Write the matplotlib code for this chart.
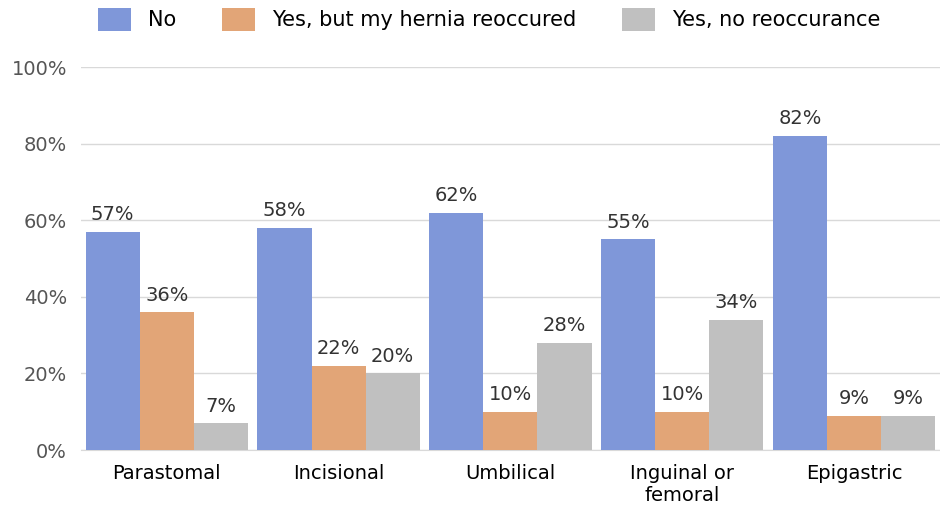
import matplotlib
matplotlib.use("Agg")
import matplotlib.pyplot as plt
import numpy as np

categories = ["Parastomal", "Incisional", "Umbilical", "Inguinal or\nfemoral", "Epigastric"]
series_names = ["No", "Yes, but my hernia reoccured", "Yes, no reoccurance"]
no_vals = [57, 58, 62, 55, 82]
reocc_vals = [36, 22, 10, 10, 9]
noreocc_vals = [7, 20, 28, 34, 9]
colors = ["#7F97D9", "#E2A577", "#C0C0C0"]

fig = plt.figure(figsize=(9.4, 5.32), dpi=100)
ax = fig.add_axes([0.086, 0.154, 0.914, 0.72])
x = np.arange(len(categories))
w = 0.315
for i, (vals, name, c) in enumerate(zip([no_vals, reocc_vals, noreocc_vals], series_names, colors)):
    xs = x + (i - 1) * w
    ax.bar(xs, vals, width=w, color=c, label=name, zorder=3)
    for xi, v in zip(xs, vals):
        ax.text(xi, v + 2, f"{v}%", ha="center", va="bottom", fontsize=14, color="#333333")

ax.set_xlim(-0.5, 4.5)
ax.set_ylim(0, 100)
ax.set_yticks(range(0, 101, 20))
ax.set_yticklabels([f"{t}%" for t in range(0, 101, 20)], fontsize=14, color="#555555")
ax.set_xticks(x)
ax.set_xticklabels(categories, fontsize=14)
ax.tick_params(length=0, pad=10)
ax.grid(axis="y", color="#D9D9D9", lw=1, zorder=0)
for s in ["top", "right", "left"]:
    ax.spines[s].set_visible(False)
ax.spines["bottom"].set_color("#D9D9D9")
fig.legend(loc="upper center", bbox_to_anchor=(0.52, 1.02), ncol=3, frameon=False,
           fontsize=15, handlelength=1.6, handleheight=1.3, columnspacing=2.2)
fig.savefig("out.png", dpi=100)
